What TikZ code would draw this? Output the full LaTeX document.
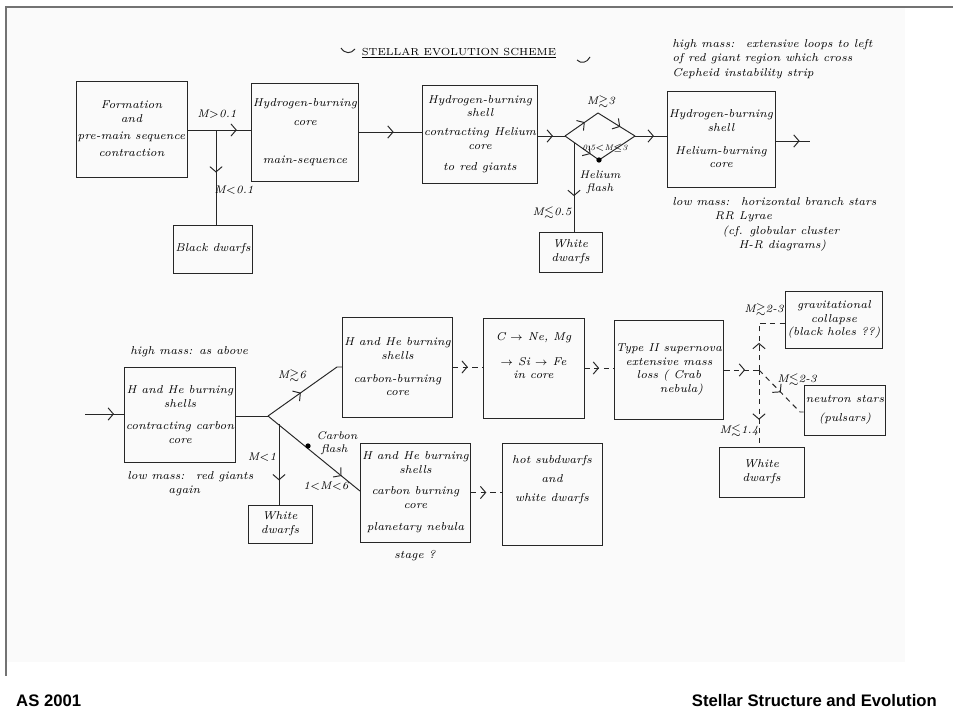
\documentclass[tikz,border=0pt]{standalone}
\usepackage{amssymb}
\usepackage{fontspec}
\newfontfamily\footfont{Liberation Sans}
\usetikzlibrary{arrows.meta,decorations.markings,positioning}

\begin{document}
\begin{tikzpicture}[
    x=0.02cm, y=-0.02cm,
    stage/.style={draw=black!85, line width=0.55pt, align=center,
        inner sep=1pt, font=\fontsize{6.5}{7.8}\selectfont\itshape},
    note/.style={align=left, inner sep=0pt, font=\fontsize{6.5}{8.2}\selectfont\itshape},
    cond/.style={inner sep=1pt, font=\fontsize{6.3}{7.5}\selectfont\itshape},
    edge/.style={draw=black!85, line width=0.55pt},
    link/.style={edge, dash pattern=on 3pt off 2.5pt},
    midarrow/.style={postaction={decorate}, decoration={markings,
        mark=at position #1 with {\arrow{Straight Barb[length=3pt,width=7pt]}}}},
    midarrow/.default=0.55
]
    \useasboundingbox (0,0) rectangle (953,720);
    % page frame
    \fill[black!2] (6,7) rectangle (905,662);
    \draw[black!55, line width=0.8pt] (953,7) -- (6,7) -- (6,676);

    % title
    \node[font=\fontsize{5.8}{7}\selectfont] (title) at (459,53) {\underline{STELLAR EVOLUTION SCHEME}};
    \draw[edge] (341,48) .. controls (345,54) and (351,54) .. (355,49);
    \draw[edge] (577,60) .. controls (581,64) and (587,63) .. (590,57);

    % upper chain
    \node[stage, minimum width=1.9cm, minimum height=1.92cm] (form) at (131.5,129)
        {Formation\\and\\[2pt]pre-main sequence\\[2pt]contraction};
    \node[stage, minimum width=2.08cm, minimum height=1.96cm] (hcore) at (305,132)
        {Hydrogen-burning\\[3pt]core\\[14pt]main-sequence};
    \node[stage, minimum width=2cm, minimum height=1.96cm] (hshell) at (480,134)
        {Hydrogen-burning\\shell\\[3pt]contracting Helium\\core\\[4pt]to red giants};
    \node[stage, minimum width=2.16cm, minimum height=1.92cm] (heshell) at (721,139)
        {Hydrogen-burning\\shell\\[5pt]Helium-burning\\core};
    \node[stage, minimum width=1.56cm, minimum height=0.96cm] (bdwarf) at (213,249) {Black dwarfs};
    \node[stage, minimum width=1.26cm, minimum height=0.8cm] (wdwarfa) at (570.5,252) {White\\dwarfs};

    \node[note, anchor=west] (hinote) at (672,59)
        {high mass:~ extensive loops to left\\of red giant region which cross\\Cepheid instability strip};
    \node[note, anchor=north west] (lonote) at (672,197)
        {low mass:\quad horizontal branch stars\\\hspace{3.7em}RR Lyrae\\
         \hspace{4.4em}(cf. globular cluster\\\hspace{5.8em}H-R diagrams)};

    \coordinate (ja) at (216,130);
    \coordinate (dl) at (565,136);
    \coordinate (dt) at (598,113);
    \coordinate (dr) at (635,136);
    \coordinate (db) at (599,160);
    \coordinate (jb) at (574,143);
    \coordinate (outa) at (810,141);

    \draw[edge] (form.east |- ja) -- (ja);
    \draw[edge, midarrow=0.6] (ja) -- (ja -| hcore.west);
    \draw[edge, midarrow=0.45] (ja) -- (ja |- bdwarf.north);
    \draw[edge, midarrow] (hcore.east) -- (hcore.east -| hshell.west);
    \draw[edge, midarrow] (hshell.east |- dl) -- (dl);
    \draw[edge, midarrow=0.6] (dl) -- (dt);
    \draw[edge, midarrow=0.6] (dt) -- (dr);
    \draw[edge, midarrow=0.75] (dl) -- (db);
    \draw[edge] (db) -- (dr);
    \fill (db) circle (1.5pt);
    \draw[edge, midarrow=0.6] (dr) -- (dr -| heshell.west);
    \draw[edge, midarrow=0.7] (heshell.east |- outa) -- (outa);
    \draw[edge, midarrow=0.6] (jb) -- (jb |- wdwarfa.north);

    \node[cond] (mha) at (217,114) {M$>$0.1};
    \node[cond] (mla) at (234,190) {M$<$0.1};
    \node[cond] (mhb) at (601,102) {M$\gtrsim$3};
    \node[cond, font=\fontsize{4.6}{5}\selectfont\itshape] (mmb) at (605,148) {0.5$<$M$\leq$3};
    \node[cond, align=center] (flash) at (600,182) {Helium\\flash};
    \node[cond] (mlb) at (552,213) {M$\lesssim$0.5};

    % lower chain
    \node[note, anchor=west] (hinoteb) at (130,352) {high mass: as above};
    \node[stage, minimum width=2.12cm, minimum height=1.9cm] (cshell) at (180,414.5)
        {H and He burning\\shells\\[5pt]contracting carbon\\core};
    \node[note, anchor=north west] (lonoteb) at (127,471) {low mass:~ red giants\\\hspace{3.6em}again};
    \node[stage, minimum width=2.02cm, minimum height=2cm] (ccore) at (397.5,367)
        {H and He burning\\shells\\[5pt]carbon-burning\\core};
    \node[stage, minimum width=2.02cm, minimum height=2cm] (sife) at (533.5,368)
        {C $\rightarrow$ Ne, Mg\\[6pt]$\rightarrow$ Si $\rightarrow$ Fe\\in core\\[6pt]~};
    \node[stage, minimum width=2.04cm, minimum height=1.98cm] (typeii) at (669,369.5)
        {Type II supernova\\extensive mass\\loss ( Crab\\\hspace*{2.2em}nebula)};
    \node[stage, minimum width=1.88cm, minimum height=1.14cm] (grav) at (834,319.5)
        {gravitational\\collapse\\(black holes ??)};
    \node[stage, minimum width=1.48cm, minimum height=1cm] (neutron) at (845,410)
        {neutron stars\\[3pt](pulsars)};
    \node[stage, minimum width=1.7cm, minimum height=1cm] (wdwarfc) at (761.5,472) {White\\dwarfs};
    \node[stage, minimum width=1.28cm, minimum height=0.76cm] (wdwarfb) at (280,524) {White\\dwarfs};
    \node[stage, minimum width=1.9cm, minimum height=1.98cm] (pneb) at (415.5,492.5)
        {H and He burning\\shells\\[4pt]carbon burning\\core\\[5pt]planetary nebula};
    \node[note] (pnstage) at (415,556) {stage ?};
    \node[stage, minimum width=2cm, minimum height=2.04cm] (hotsd) at (552,494)
        {hot subdwarfs\\[3pt]and\\[3pt]white dwarfs\\[10pt]~};

    \coordinate (in) at (85,414);
    \coordinate (jd) at (268,416);
    \coordinate (ba) at (337,367);
    \coordinate (je) at (279,424);
    \coordinate (cf) at (308,446);
    \coordinate (pa) at (368,491);
    \coordinate (jc) at (759,370);
    \coordinate (ca) at (759,323);
    \coordinate (cb) at (800,412);

    \draw[edge, midarrow=0.75] (in) -- (in -| cshell.west);
    \draw[edge] (cshell.east |- jd) -- (jd);
    \draw[edge, midarrow=0.45] (jd) -- (ba) -- (ba -| ccore.west);
    \draw[edge, midarrow=0.8] (jd) -- (pa -| pneb.west);
    \fill (cf) circle (1.5pt);
    \draw[edge, midarrow=0.7] (je) -- (je |- wdwarfb.north);
    \draw[link, midarrow=0.5] (ccore.east) -- (ccore.east -| sife.west);
    \draw[link, midarrow=0.5] (sife.east) -- (sife.east -| typeii.west);
    \draw[link, midarrow=0.5] (pneb.east) -- (pneb.east -| hotsd.west);
    \draw[link, midarrow=0.6] (typeii.east |- jc) -- (jc);
    \draw[link, midarrow=0.37] (jc) -- (ca) -- (ca -| grav.west);
    \draw[link, midarrow=0.65] (jc) -- (jc |- wdwarfc.north);
    \draw[link, midarrow=0.5] (jc) -- (cb) -- (cb -| neutron.west);

    \node[cond] (mhc) at (292,376) {M$\gtrsim$6};
    \node[cond] (mlc) at (262,457) {M$<$1};
    \node[cond, align=left] (cflash) at (337,443) {Carbon\\\hspace*{0.4em}flash};
    \node[cond] (mmc) at (326,486) {1$<$M$<$6};
    \node[cond] (mhd) at (764,310) {M$\gtrsim$2-3};
    \node[cond] (mmd) at (797,380) {M$\lesssim$2-3};
    \node[cond] (mle) at (739,431) {M$\lesssim$1.4};

    % footer
    \node[font=\fontsize{9.5}{11}\selectfont\footfont\bfseries, anchor=west] (course) at (10,701) {AS 2001};
    \node[font=\fontsize{9.5}{11}\selectfont\footfont\bfseries, anchor=east] (subject) at (943,701)
        {Stellar Structure and Evolution};
\end{tikzpicture}
\end{document}
